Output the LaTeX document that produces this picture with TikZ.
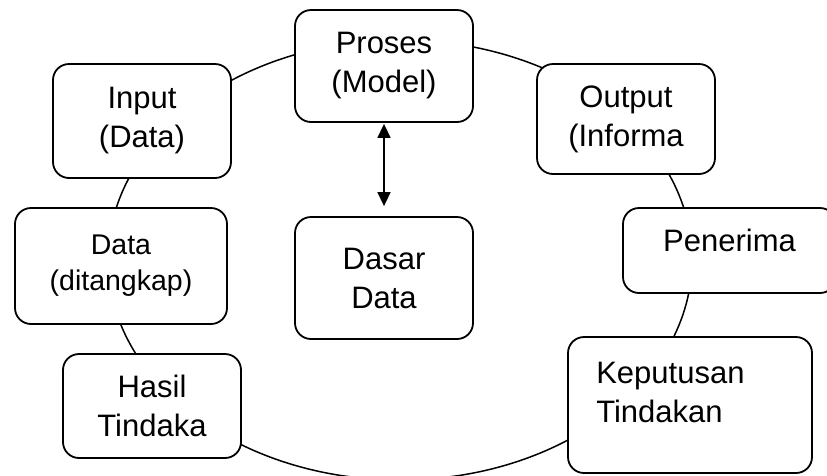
\documentclass[tikz,border=0pt]{standalone}
\usepackage{fontspec}
\setmainfont{Liberation Sans}
\usetikzlibrary{arrows.meta}
\begin{document}
\begin{tikzpicture}[x=1pt,y=-1pt,
  panel/.style={draw, line width=1.8pt, fill=white, rounded corners=16pt,
    inner sep=0pt, align=center, font=\fontsize{31}{39}\selectfont},
  ring/.style={line width=1.5pt},
  link/.style={line width=1.5pt,
    {Triangle[width=13pt,length=14pt]}-{Triangle[width=13pt,length=14pt]}}]
\useasboundingbox (0,0) rectangle (827,475);
\clip (0,0) rectangle (827,475);

% the cycle drawn behind the boxes
\draw[ring] (400,260) ellipse [x radius=292pt, y radius=220pt];

% boxes on the cycle
\node[panel, minimum width=178pt, minimum height=112pt] (proses) at (384,66) {Proses\\(Model)};
\node[panel, minimum width=178pt, minimum height=114pt] (input) at (142,121) {Input\\(Data)};
\node[panel, minimum width=178pt, minimum height=110pt] (output) at (626,119) {Output\\(Informa};
\node[panel, minimum width=212pt, minimum height=116pt,
      font=\fontsize{28.5}{36}\selectfont] (data) at (121,266) {Data\\(ditangkap)};
\node[panel, minimum width=178pt, minimum height=104pt] (hasil) at (152,406) {Hasil\\Tindaka};
\node[panel, minimum width=213pt, minimum height=85pt, text depth=20pt] (penerima) at (729.5,250.5) {Penerima};
\node[panel, minimum width=244pt, minimum height=136pt] (keputusan) at (690,405) {};
\node[anchor=north west, inner sep=0pt, align=left, font=\fontsize{31}{39}\selectfont]
      (keputusantext) at ([shift={(29,26)}]keputusan.north west) {Keputusan\\Tindakan};

% database in the middle
\node[panel, minimum width=178pt, minimum height=122pt] (dasar) at (384,278) {Dasar\\Data};

\draw[link, shorten <=1pt, shorten >=10pt] (proses.south) -- (proses.south |- dasar.north);
\end{tikzpicture}
\end{document}
